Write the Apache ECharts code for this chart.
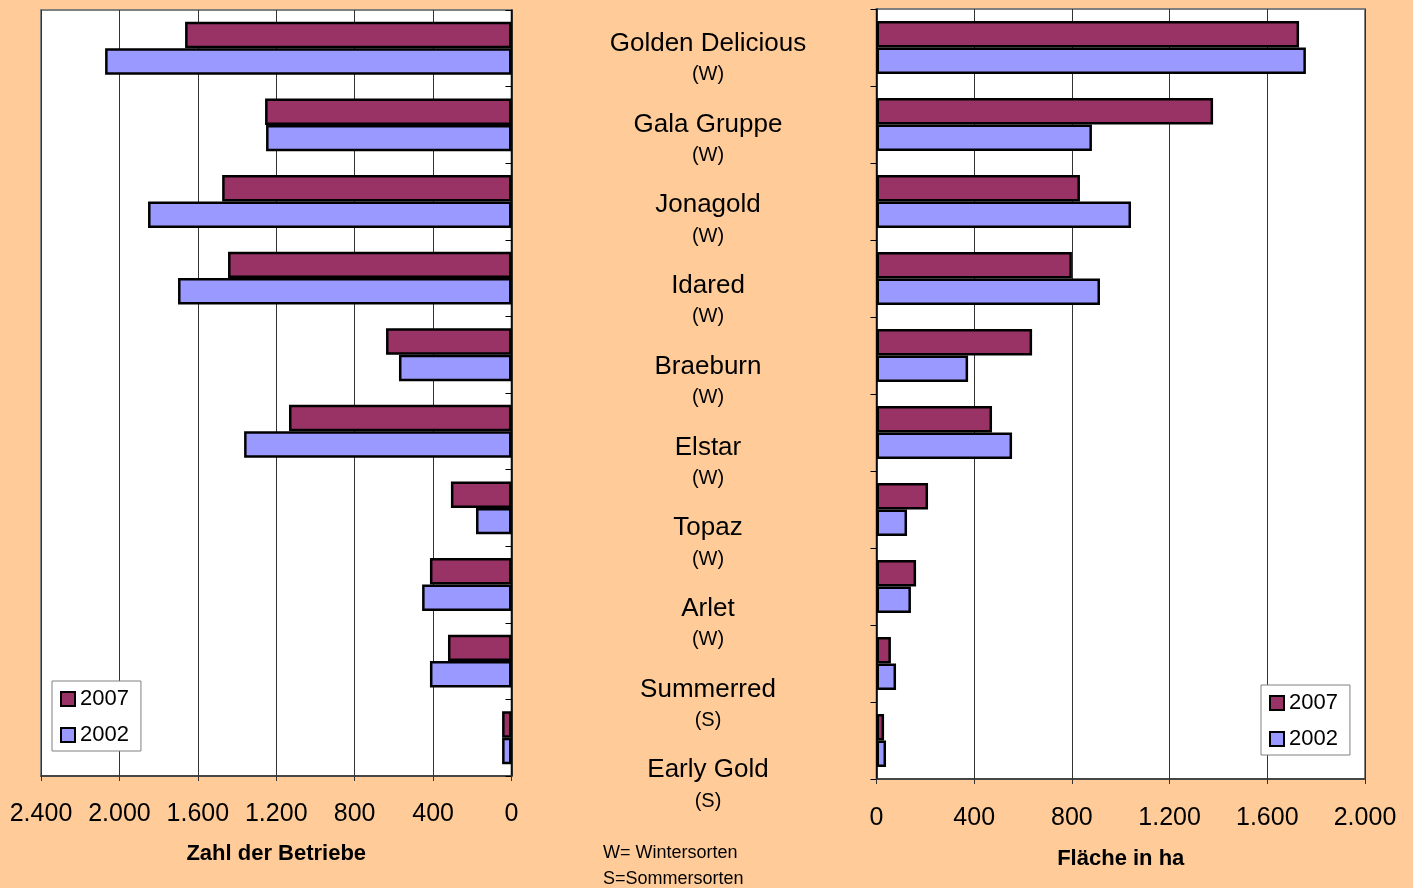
<!DOCTYPE html>
<html>
<head>
<meta charset="utf-8">
<script src="https://cdn.jsdelivr.net/npm/echarts@6/dist/echarts.min.js"></script>
<style>
  html, body { margin: 0; padding: 0; background: #FFCC99; }
  #chart { width: 1413px; height: 888px; }
</style>
</head>
<body>
<div id="chart"></div>
<script>
// Sorten und Typ (W = Winter, S = Sommer)
var sorten = ['Golden Delicious', 'Gala Gruppe', 'Jonagold', 'Idared', 'Braeburn', 'Elstar', 'Topaz', 'Arlet', 'Summerred', 'Early Gold'];
var sortenTyp = ['W', 'W', 'W', 'W', 'W', 'W', 'W', 'W', 'S', 'S'];

// Zahl der Betriebe
var betriebe2007 = [1665, 1257, 1476, 1446, 640, 1135, 309, 416, 324, 48];
var betriebe2002 = [2073, 1252, 1854, 1701, 574, 1364, 181, 456, 416, 48];

// Fläche in ha
var flaeche2007 = [1730, 1378, 833, 800, 637, 473, 211, 162, 59, 31];
var flaeche2002 = [1758, 882, 1042, 915, 375, 555, 125, 141, 80, 39];

var betriebeTicks = [0, 2400, 400];
var flaecheTicks = [0, 2000, 400];

var farbe2007 = '#993366';
var farbe2002 = '#9999FF';

function deZahl(v) {
  return String(v).replace(/\B(?=(\d{3})+(?!\d))/g, '.');
}

var chart = echarts.init(document.getElementById('chart'));

function barSerie(name, data, color, axisIdx) {
  return {
    name: name,
    type: 'bar',
    xAxisIndex: axisIdx,
    yAxisIndex: axisIdx,
    barCategoryGap: '31%',
    barGap: '0%',
    itemStyle: { color: color, borderColor: '#000', borderWidth: 2.5 },
    emphasis: { disabled: true },
    data: data
  };
}

var legendBase = {
  orient: 'vertical',
  backgroundColor: '#fff',
  borderColor: '#808080',
  borderWidth: 1,
  borderRadius: 0,
  icon: 'rect',
  itemWidth: 14,
  itemHeight: 14,
  itemGap: 14,
  padding: [7, 12, 5, 8],
  textStyle: { fontFamily: 'Liberation Sans, Arial', fontSize: 22, color: '#000', lineHeight: 22 },
  data: ['2007', '2002']
};

var option = {
  backgroundColor: '#FFCC99',
  animation: false,
  grid: [
    { left: 41, right: 1413 - 511.5, top: 10, bottom: 888 - 776, show: true, backgroundColor: '#fff', borderColor: '#808080', borderWidth: 2 },
    { left: 876.5, right: 1413 - 1365, top: 9, bottom: 888 - 779, show: true, backgroundColor: '#fff', borderColor: '#808080', borderWidth: 2 },
    { left: 708, right: 1413 - 709, top: 19, height: 807 }
  ],
  legend: [
    Object.assign({ left: 52, top: 681 }, legendBase),
    Object.assign({ left: 1261, top: 685 }, legendBase)
  ],
  graphic: [{
    type: 'text',
    left: 603,
    top: 840,
    style: {
      text: 'W= Wintersorten\nS=Sommersorten',
      font: '18px Liberation Sans, Arial',
      lineHeight: 26,
      fill: '#000'
    }
  }],
  xAxis: [
    {
      gridIndex: 0, type: 'value', inverse: true,
      min: betriebeTicks[0], max: betriebeTicks[1], interval: betriebeTicks[2],
      name: 'Zahl der Betriebe', nameLocation: 'middle', nameGap: 67,
      nameTextStyle: { fontFamily: 'Liberation Sans, Arial', fontSize: 22, fontWeight: 'bold', color: '#000' },
      axisLine: { show: true, lineStyle: { color: '#333', width: 1.5 } },
      axisTick: { show: true, length: 5, lineStyle: { color: '#333' } },
      axisLabel: { fontFamily: 'Liberation Sans, Arial', fontSize: 25, color: '#000', margin: 26, formatter: deZahl },
      splitLine: { show: true, lineStyle: { color: '#333', width: 1 } }
    },
    {
      gridIndex: 1, type: 'value',
      min: flaecheTicks[0], max: flaecheTicks[1], interval: flaecheTicks[2],
      name: 'Fläche in ha', nameLocation: 'middle', nameGap: 69,
      nameTextStyle: { fontFamily: 'Liberation Sans, Arial', fontSize: 22, fontWeight: 'bold', color: '#000' },
      axisLine: { show: true, lineStyle: { color: '#333', width: 1.5 } },
      axisTick: { show: true, length: 5, lineStyle: { color: '#333' } },
      axisLabel: { fontFamily: 'Liberation Sans, Arial', fontSize: 25, color: '#000', margin: 27, formatter: deZahl },
      splitLine: { show: true, lineStyle: { color: '#333', width: 1 } }
    },
    { gridIndex: 2, type: 'value', show: false }
  ],
  yAxis: [
    {
      gridIndex: 0, type: 'category', inverse: true, position: 'right', data: sorten,
      axisLine: { show: true, lineStyle: { color: '#000', width: 1.5 } },
      axisTick: { show: true, inside: true, length: 6, lineStyle: { color: '#000' } },
      axisLabel: { show: false }
    },
    {
      gridIndex: 1, type: 'category', inverse: true, position: 'left', data: sorten,
      axisLine: { show: true, lineStyle: { color: '#000', width: 1.5 } },
      axisTick: { show: true, length: 6, lineStyle: { color: '#000' } },
      axisLabel: { show: false }
    },
    {
      gridIndex: 2, type: 'category', inverse: true, position: 'left',
      data: sorten.map(function (s, i) { return s + '\n(' + sortenTyp[i] + ')'; }),
      axisLine: { show: false },
      axisTick: { show: false },
      axisLabel: {
        align: 'center',
        margin: 0,
        formatter: function (v) {
          var p = v.split('\n');
          return '{a|' + p[0] + '}\n{b|' + p[1] + '}';
        },
        rich: {
          a: { fontFamily: 'Liberation Sans, Arial', fontSize: 26, color: '#000', lineHeight: 31, align: 'center' },
          b: { fontFamily: 'Liberation Sans, Arial', fontSize: 20, color: '#000', lineHeight: 31, align: 'center' }
        }
      }
    }
  ],
  series: [
    barSerie('2007', betriebe2007, farbe2007, 0),
    barSerie('2002', betriebe2002, farbe2002, 0),
    barSerie('2007', flaeche2007, farbe2007, 1),
    barSerie('2002', flaeche2002, farbe2002, 1)
  ]
};

chart.setOption(option);
</script>
</body>
</html>
